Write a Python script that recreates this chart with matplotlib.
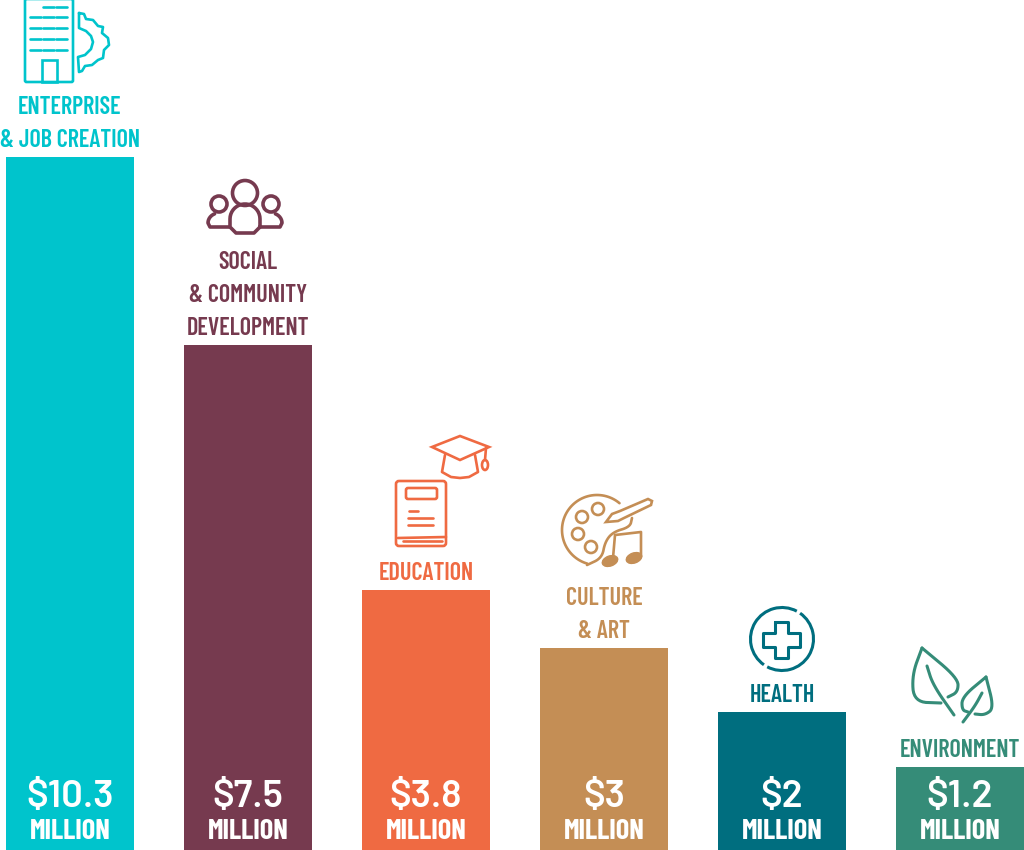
import numpy as np
import matplotlib
matplotlib.use("Agg")
import matplotlib.pyplot as plt
from matplotlib.patches import Circle, Ellipse, FancyBboxPatch, Polygon, Rectangle, Arc

# data
categories = ["ENTERPRISE\n& JOB CREATION", "SOCIAL\n& COMMUNITY\nDEVELOPMENT", "EDUCATION",
              "CULTURE\n& ART", "HEALTH", "ENVIRONMENT"]
bar_heights = [10.3, 7.5, 3.86, 3.0, 2.05, 1.23]
amount_labels = ["$10.3", "$7.5", "$3.8", "$3", "$2", "$1.2"]
colors = ["#00C4CC", "#763A4F", "#EF6A42", "#C48E55", "#006E7F", "#358C78"]

PX = 0.72  # points per pixel at dpi 100
LABEL_FONT = ["Barlow Condensed", "Roboto Condensed", "Roboto"]
AMOUNT_FONT = ["Barlow", "Roboto"]

fig = plt.figure(figsize=(10.24, 8.5), dpi=100)
ax = fig.add_axes([0, 0, 1, 1])
x = np.arange(len(categories))
ax.bar(x, bar_heights, width=128 / 178, color=colors)
ax.set_xlim(-70 / 178, (1024 - 70) / 178)
ax.set_ylim(0, 850 / 67.28)
ax.axis("off")

for i, name in enumerate(categories):
    lines = name.split("\n")
    for j, line_txt in enumerate(reversed(lines)):
        ax.annotate(line_txt, (i, bar_heights[i]), xytext=(0, (10 + 33 * j) * PX),
                    textcoords="offset points", ha="center", va="baseline",
                    color=colors[i], fontsize=17.4, family=LABEL_FONT, fontweight=600)
    ax.annotate(amount_labels[i], (i, 0), xytext=(0, 43 * PX), textcoords="offset points",
                ha="center", va="baseline", color="white", fontsize=27.5,
                family=AMOUNT_FONT, fontweight=600)
    ax.annotate("MILLION", (i, 0), xytext=(0, 11 * PX), textcoords="offset points",
                ha="center", va="baseline", color="white", fontsize=20.5,
                family=LABEL_FONT, fontweight=700)

# icons, drawn on an overlay in pixel coordinates
ov = fig.add_axes([0, 0, 1, 1], facecolor="none")
ov.set_xlim(0, 1024)
ov.set_ylim(850, 0)
ov.axis("off")
LW = 1.9


def line(pts, c, lw=LW):
    xs, ys = zip(*pts)
    ov.plot(xs, ys, color=c, lw=lw, solid_capstyle="round", solid_joinstyle="round")


def smooth(pts, n=3):
    # corner cutting, keeps the end points
    p = np.array(pts, float)
    for _ in range(n):
        q = np.empty((2 * len(p), 2))
        q[0::2] = 0.75 * p + 0.25 * np.roll(p, -1, axis=0)
        q[1::2] = 0.25 * p + 0.75 * np.roll(p, -1, axis=0)
        p = np.vstack([p[0], q[:-2], p[-1]])
    return p


def rbox(x0, y0, w, h, r, c, lw=LW):
    ov.add_patch(FancyBboxPatch((x0 + r, y0 + r), w - 2 * r, h - 2 * r, boxstyle=f"round,pad={r}",
                                fc="none", ec=c, lw=lw))


# enterprise
c = colors[0]
rbox(25, -1, 48, 83, 1.5, c)
ov.add_patch(Rectangle((42, 60), 15, 22, fc="none", ec=c, lw=LW))
for y in [7, 17, 28, 39, 50]:
    for a, b in [(30, 41), (43, 54), (56, 67)]:
        if y == 7 and a == 30:
            continue
        line([(a, y), (b, y)], c)
gear = [(79, 13), (84, 14), (86, 19), (93, 20), (98, 26), (103, 27), (102, 33), (108, 38),
        (109, 45), (104, 50), (103, 58), (98, 60), (92, 65), (85, 66), (82, 71), (79, 72),
        (78, 57), (85, 55), (91, 49), (93, 42), (91, 36), (86, 31), (79, 28), (79, 13)]
line(gear, c)

# social
c = colors[1]
SW = 2.6
ov.add_patch(Circle((245, 193), 12.5, fc="none", ec=c, lw=SW))
ov.add_patch(Circle((219, 204), 8, fc="none", ec=c, lw=SW))
ov.add_patch(Circle((271, 204), 8, fc="none", ec=c, lw=SW))
body = np.linspace(np.pi, 2 * np.pi, 20)
line([(260, 227), (254, 233), (236, 233), (230, 227)] +
     [(245 + 15 * np.cos(t), 219 + 15 * np.sin(t)) for t in body] + [(260, 227)], c, SW)
left = [(219 + 11 * np.cos(t), 223 + 10 * np.sin(t)) for t in body]
line([(229, 227), (210, 227), (208, 223)] + left[:8], c, SW)
right = [(271 + 11 * np.cos(t), 223 + 10 * np.sin(t)) for t in body]
line(right[12:] + [(282, 223), (280, 227), (261, 227)], c, SW)

# education
c = colors[2]
ov.add_patch(Polygon([(432, 447), (460, 436), (489, 447), (460, 460)], fc="white", ec=c, lw=LW))
line([(445, 455), (442, 472), (451, 477), (460, 478), (469, 477), (478, 472), (475, 455)], c)
line([(486, 448), (485, 460)], c)
ov.add_patch(Ellipse((485, 465), 6, 10, fc="none", ec=c, lw=LW))
rbox(396, 481, 50, 65, 3, c)
rbox(406, 488, 31, 11, 2, c)
line([(409, 511), (418, 511)], c)
line([(408, 518), (433, 518)], c)
line([(408, 525), (433, 525)], c)
line([(398, 538), (446, 537)], c)
line([(403, 541), (442, 541)], c)

# culture
c = colors[3]
palette = [(632, 518), (630, 527), (613, 532), (605, 542), (602, 558), (587, 565)]
line(smooth(palette), c)
arc_t = np.linspace(np.radians(106), np.radians(310), 60)
line([(597 + 35 * np.cos(t), 530 + 35 * np.sin(t)) for t in arc_t], c)
for cx, cy in [(582, 517), (598, 509), (578, 534), (591, 547)]:
    ov.add_patch(Circle((cx, cy), 6, fc="none", ec=c, lw=LW))
ov.add_patch(Polygon([(606, 522), (612, 514), (620, 511), (648, 499), (652, 501), (651, 505),
                      (624, 518), (618, 521)], fc="white", ec=c, lw=LW))
line([(613, 558), (615, 535), (641, 532), (641, 557)], c)
ov.add_patch(Ellipse((610, 561), 16, 10, angle=-20, fc=c, ec=c))
ov.add_patch(Ellipse((634, 558), 16, 10, angle=-20, fc=c, ec=c))

# health
c = colors[4]
ov.add_patch(Arc((782, 639), 63, 63, theta1=-55, theta2=118, ec=c, lw=2.2))
ov.add_patch(Arc((782, 639), 63, 63, theta1=125, theta2=298, ec=c, lw=2.2))
cross = [(775, 622), (788, 622), (788, 633), (800, 633), (800, 647), (788, 647), (788, 658),
         (775, 658), (775, 647), (763, 647), (763, 633), (775, 633), (775, 622)]
line(cross, c, 2.2)

# environment
c = colors[5]
line(smooth([(922, 648), (912, 675), (914, 702), (941, 703)]), c, 2.2)
line(smooth([(922, 648), (958, 678), (958, 692), (948, 697)]), c, 2.2)
line(smooth([(927, 666), (933, 685), (954, 715)]), c, 2.2)
line(smooth([(986, 677), (962, 697), (962, 710), (968, 712)]), c, 2.2)
line(smooth([(986, 677), (994, 708), (985, 715), (975, 714)]), c, 2.2)
line(smooth([(982, 693), (975, 706), (963, 722)]), c, 2.2)

fig.savefig("out.png", dpi=100)
